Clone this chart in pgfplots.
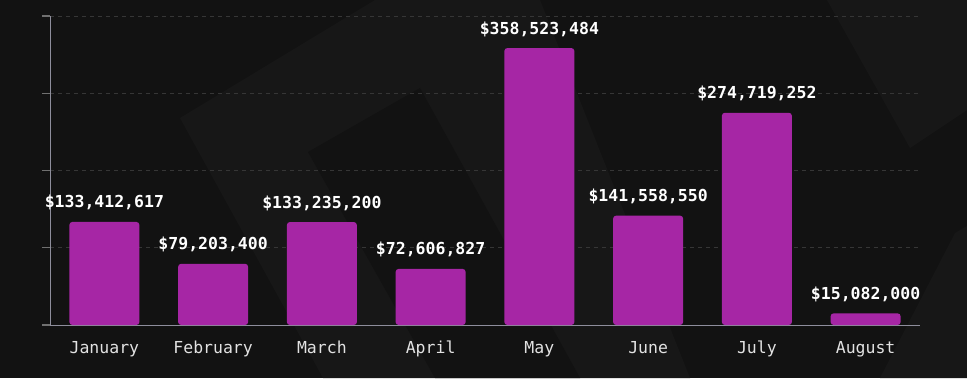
\documentclass[border=0pt]{standalone}
\usepackage{pgfplots}
\pgfplotsset{compat=1.18}
\usepackage{fontspec}
\newfontfamily\mono{DejaVu Sans Mono}
\definecolor{bg}{HTML}{121212}
\definecolor{bglight}{HTML}{171717}
\definecolor{barc}{HTML}{A626A5}
\definecolor{gridc}{HTML}{363636}
\definecolor{axisc}{HTML}{8E8E9C}
\definecolor{tickc}{HTML}{707070}
\definecolor{labc}{HTML}{E2E2E2}
\begin{document}
\begin{tikzpicture}[x=1pt,y=1pt]
\fill[bg] (0,0) rectangle (967,378);
\begin{scope}
\clip (0,0) rectangle (967,378);
\fill[bglight] (180,260) -- (375,378) -- (540,378) -- (690,0) -- (323,0) -- cycle;
\fill[bg] (308,226) -- (420,290) -- (580,0) -- (435,0) -- cycle;
\fill[bglight] (827,378) -- (967,378) -- (967,268) -- (910,230) -- cycle;
\fill[bglight] (955,145) -- (967,152) -- (967,0) -- (880,0) -- cycle;
\end{scope}
\useasboundingbox (0,0) rectangle (967,378);
\begin{axis}[
  at={(50pt,53pt)}, anchor=south west,
  scale only axis, width=870pt, height=309pt,
  xmin=-0.5, xmax=7.5, ymin=0, ymax=4e8,
  axis x line*=bottom, axis y line*=left,
  axis line style={draw=axisc, line width=1pt},
  xtick={0,1,2,3,4,5,6,7},
  xticklabels={January,February,March,April,May,June,July,August},
  ytick={0,1e8,2e8,3e8,4e8}, yticklabels={},
  scaled y ticks=false,
  tick align=outside, major tick length=8pt,
  xtick style={draw=none},
  ytick style={draw=tickc, line width=1.2pt},
  ymajorgrids,
  grid style={draw=gridc, dash pattern=on 4pt off 4pt, line width=0.9pt},
  xticklabel style={font=\mono\fontsize{16.5}{18}\selectfont, text=labc, anchor=base, yshift=-20pt, inner sep=0pt},
  clip=false,
  nodes near coords,
  point meta=explicit symbolic,
  every node near coord/.append style={font=\mono\bfseries\fontsize{16.5}{18}\selectfont, text=white, anchor=base, yshift=14pt, inner sep=0pt},
]
\addplot[ybar, bar width=70pt, bar shift=0pt, fill=barc, draw=none, rounded corners=3pt] coordinates {
  (0,133412617) [\$133,412,617]
  (1,79203400) [\$79,203,400]
  (2,133235200) [\$133,235,200]
  (3,72606827) [\$72,606,827]
  (4,358523484) [\$358,523,484]
  (5,141558550) [\$141,558,550]
  (6,274719252) [\$274,719,252]
  (7,15082000) [\$15,082,000]
};
\end{axis}
\end{tikzpicture}
\end{document}
